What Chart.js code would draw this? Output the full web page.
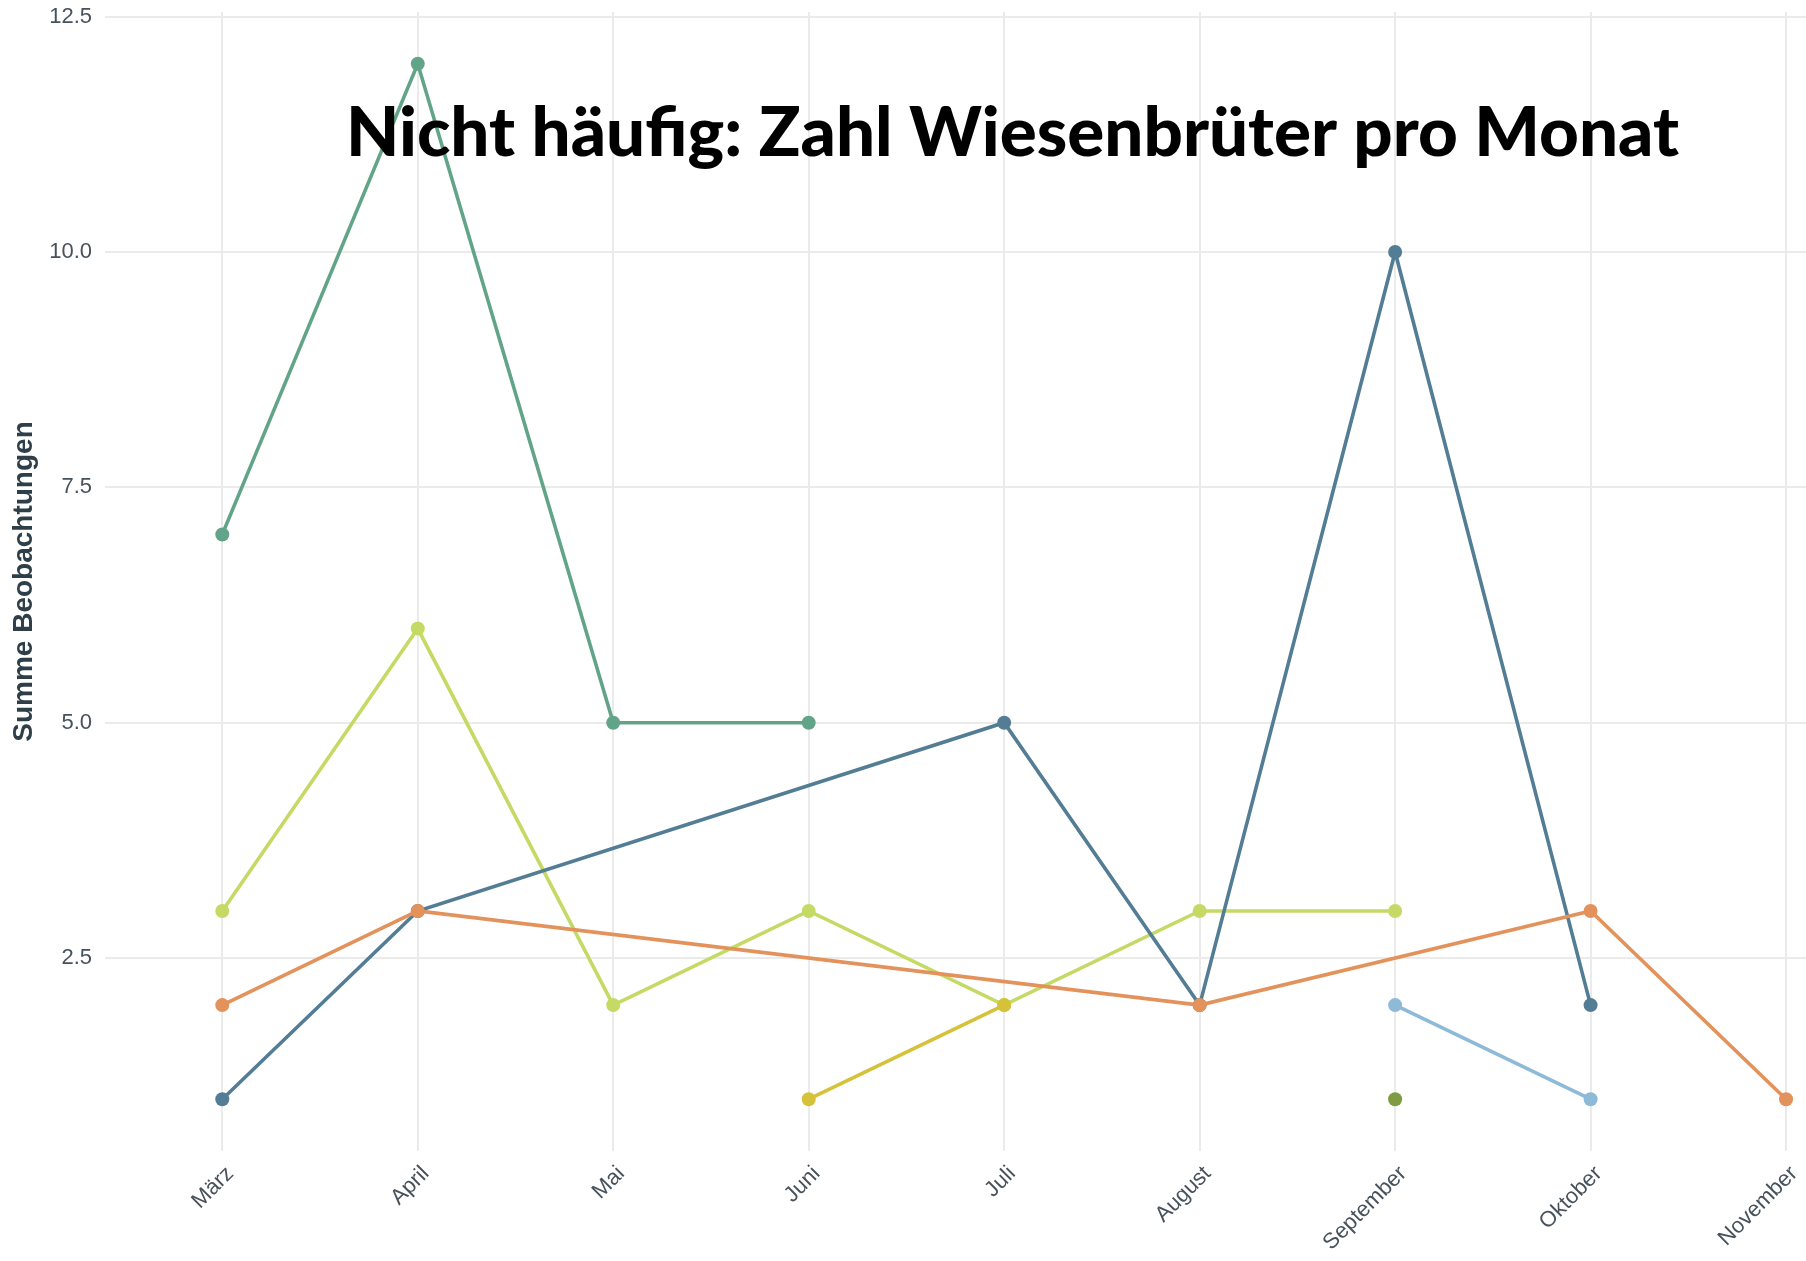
<!DOCTYPE html>
<html>
<head>
<meta charset="utf-8">
<script src="https://cdn.jsdelivr.net/npm/chart.js@4.4.1/dist/chart.umd.min.js"></script>
<style>
  html, body { margin: 0; padding: 0; background: #ffffff; overflow: hidden; }
  #wrap { width: 1806px; height: 1261px; }
</style>
</head>
<body>
<div id="wrap"><canvas id="c" width="1806" height="1261"></canvas></div>
<script>
// ---- data ----
const months = ['März', 'April', 'Mai', 'Juni', 'Juli', 'August', 'September', 'Oktober', 'November'];
const serieTeal   = [7, 12, 5, 5, null, null, null, null, null];
const serieLime   = [3, 6, 2, 3, 2, 3, 3, null, null];
const serieOrange = [2, 3, null, null, null, 2, null, 3, 1];
const serieBlue   = [1, 3, null, null, 5, 2, 10, 2, null];
const serieYellow = [null, null, null, 1, 2, null, null, null, null];
const serieLightBlue = [null, null, null, null, null, null, 2, 1, null];
const serieOlive  = [null, null, null, null, null, null, 1, null, null];
const yTicks = [2.5, 5.0, 7.5, 10.0, 12.5];
const chartTitle = 'Nicht häufig: Zahl Wiesenbrüter pro Monat';
const yTitle = 'Summe Beobachtungen';

// build {x,y} points from the arrays (skipping missing months)
function pts(arr) {
  const out = [];
  arr.forEach((v, i) => { if (v !== null) out.push({ x: i, y: v }); });
  return out;
}

function ds(label, arr, color) {
  return {
    label: label,
    data: pts(arr),
    borderColor: color,
    backgroundColor: color,
    pointBackgroundColor: color,
    pointBorderWidth: 0,
    pointRadius: 7,
    pointHoverRadius: 7,
    borderWidth: 3.6,
    tension: 0,
    fill: false
  };
}

// first dataset is drawn on top
const datasets = [
  ds('Art C', serieOrange, '#E2925A'),
  ds('Art E', serieYellow, '#D6C23A'),
  ds('Art F', serieLightBlue, '#8EBAD8'),
  ds('Art G', serieOlive, '#7F9C42'),
  ds('Art D', serieBlue, '#537D95'),
  ds('Art A', serieTeal, '#62A488'),
  ds('Art B', serieLime, '#C4DA64')
];

const overlayTitle = {
  id: 'overlayTitle',
  afterDraw(chart) {
    const ctx = chart.ctx;
    ctx.save();
    ctx.font = '900 68px Lato, "Open Sans", sans-serif';
    ctx.fillStyle = '#000000';
    ctx.textBaseline = 'alphabetic';
    ctx.textAlign = 'left';
    const w = ctx.measureText(chartTitle).width;
    const targetW = 1333;
    ctx.translate(346, 156);
    ctx.scale(targetW / w, 1);
    ctx.fillText(chartTitle, 0, 0);
    ctx.restore();
  }
};

new Chart(document.getElementById('c'), {
  type: 'line',
  data: { datasets: datasets },
  plugins: [overlayTitle],
  options: {
    responsive: false,
    devicePixelRatio: 1,
    animation: false,
    events: [],
    layout: { autoPadding: false, padding: { top: 12, left: 0, right: 0, bottom: 0 } },
    plugins: { legend: { display: false }, tooltip: { enabled: false }, title: { display: false } },
    scales: {
      x: {
        type: 'linear',
        min: -0.6,
        max: 8.102,
        grid: { color: '#EBEBEB', lineWidth: 2, drawTicks: false },
        border: { display: false },
        ticks: {
          stepSize: 1,
          autoSkip: false,
          includeBounds: false,
          minRotation: 45,
          maxRotation: 45,
          padding: 10,
          labelOffset: 8,
          color: '#47525B',
          font: { family: '"Liberation Sans", Arial, sans-serif', size: 22 },
          callback: (v) => (Number.isInteger(v) && months[v] !== undefined) ? months[v] : ''
        },
        afterFit(scale) { scale.height = 110; scale.paddingLeft = 0; scale.paddingRight = 0; }
      },
      y: {
        type: 'linear',
        min: 0.45,
        max: 12.55,
        grid: { color: '#EBEBEB', lineWidth: 2, drawTicks: false },
        border: { display: false },
        afterBuildTicks(scale) { scale.ticks = yTicks.map(v => ({ value: v })); },
        ticks: {
          includeBounds: false,
          padding: 13,
          color: '#47525B',
          font: { family: '"Liberation Sans", Arial, sans-serif', size: 22 },
          callback: (v) => Number(v).toFixed(1)
        },
        title: {
          display: true,
          text: yTitle,
          color: '#2E3F4A',
          font: { family: '"Liberation Sans", Arial, sans-serif', size: 28, weight: 'bold' },
          padding: { top: 7, bottom: 0 }
        },
        afterFit(scale) { scale.width = 105; scale.paddingTop = 0; scale.paddingBottom = 0; }
      }
    }
  }
});
</script>
</body>
</html>
